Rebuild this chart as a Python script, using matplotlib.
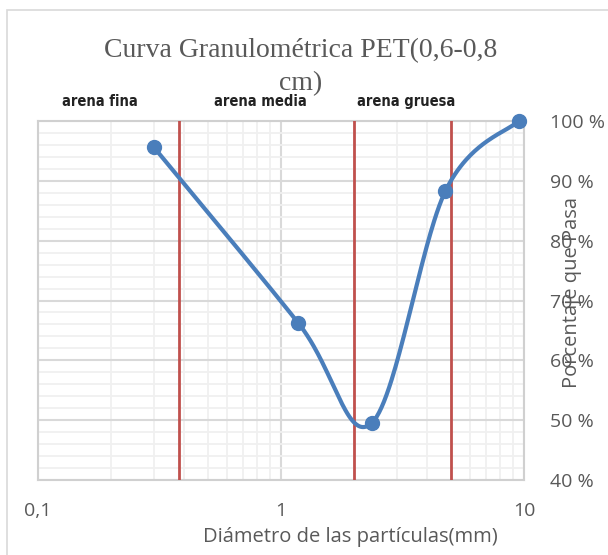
import numpy as np
import matplotlib
matplotlib.use("Agg")
import matplotlib.pyplot as plt
from matplotlib import font_manager
from matplotlib.ticker import FixedLocator, FuncFormatter, NullFormatter
from matplotlib.patches import Rectangle

# ---- data ----
diam_mm = [0.3, 1.18, 2.36, 4.75, 9.5]
pasa_pct = [95.6, 66.2, 49.5, 88.3, 100.0]
limits_mm = [0.38, 2.0, 5.0]
zone_labels = ["arena fina", "arena media", "arena gruesa"]
zone_label_x = [0.18, 0.82, 3.27]
x_ticks = [0.1, 1, 10]
x_tick_labels = ["0,1", "1", "10"]
y_ticks = [40, 50, 60, 70, 80, 90, 100]

title = "Curva Granulométrica PET(0,6-0,8\ncm)"
xlabel = "Diámetro de las partículas(mm)"
ylabel = "Porcentaje que Pasa"

names = {f.name for f in font_manager.fontManager.ttflist}
sans = "Open Sans" if "Open Sans" in names else "DejaVu Sans"

W, H = 608, 555
fig = plt.figure(figsize=(W / 100, H / 100), dpi=100)
L, R, T, B = 38, 524, 121, 480
ax = fig.add_axes([L / W, 1 - B / H, (R - L) / W, (B - T) / H])

# chart border
fig.patches.append(Rectangle((7 / W, -0.1), 1.2, 1 - 10 / H + 0.1, transform=fig.transFigure,
                             fill=False, edgecolor="#d9d9d9", linewidth=1.2))

ax.set_xscale("log")
ax.set_xlim(0.1, 10)
ax.set_ylim(40, 100)

# grid
ax.xaxis.set_major_locator(FixedLocator(x_ticks))
ax.xaxis.set_minor_locator(FixedLocator([m * d for d in (0.1, 1) for m in range(2, 10)]))
ax.yaxis.set_major_locator(FixedLocator(y_ticks))
ax.yaxis.set_minor_locator(FixedLocator(np.arange(40, 101, 2)))
ax.grid(which="minor", color="#f0f0f0", linewidth=1.3)
ax.grid(which="major", color="#d9d9d9", linewidth=1.5)
ax.set_axisbelow(True)
for s in ax.spines.values():
    s.set_color("#d0d0d0")
    s.set_linewidth(1.5)

ax.xaxis.set_major_formatter(FuncFormatter(lambda v, p: x_tick_labels[x_ticks.index(v)] if v in x_ticks else ""))
ax.xaxis.set_minor_formatter(NullFormatter())
ax.yaxis.tick_right()
ax.yaxis.set_major_formatter(FuncFormatter(lambda v, p: f"{int(v)}\u00a0%"))
ax.tick_params(which="both", length=0)
ax.tick_params(axis="x", pad=16, labelsize=14, labelcolor="#595959")
ax.tick_params(axis="y", pad=19, labelsize=14, labelcolor="#595959")
for lab in ax.get_xticklabels() + ax.get_yticklabels():
    lab.set_fontfamily(sans)

# red limit lines
for xv in limits_mm:
    ax.axvline(xv, color="#c0504d", linewidth=2, zorder=3)

# smoothed curve (Excel-style Bezier) in log-x space
lx = np.log10(diam_mm)
py = np.array(pasa_pct)
P = np.column_stack([lx, py])
n = len(P)
curve = []
for i in range(n - 1):
    p0 = P[i - 1] if i > 0 else P[i]
    p1, p2 = P[i], P[i + 1]
    p3 = P[i + 2] if i + 2 < n else P[i + 1]
    c1 = p1 + (p2 - p0) / 6
    c2 = p2 - (p3 - p1) / 6
    t = np.linspace(0, 1, 60)[:, None]
    seg = (1 - t) ** 3 * p1 + 3 * (1 - t) ** 2 * t * c1 + 3 * (1 - t) * t ** 2 * c2 + t ** 3 * p2
    curve.append(seg)
curve = np.vstack(curve)
ax.plot(10 ** curve[:, 0], curve[:, 1], color="#4a7ebb", linewidth=3, zorder=4, solid_capstyle="round")
ax.plot(diam_mm, pasa_pct, "o", color="#4a7ebb", markersize=10, zorder=5, clip_on=False)

# zone labels
for lab, xv in zip(zone_labels, zone_label_x):
    ax.text(xv, 1.055, lab, transform=ax.get_xaxis_transform(), ha="center", va="center",
            fontsize=10.5, fontweight="bold", fontstretch="condensed", family="DejaVu Sans",
            color="#222222")

fig.text(301 / W, 1 - 67 / H, title, ha="center", va="center", fontsize=20,
         family="Liberation Serif", color="#595959", linespacing=1.45)
fig.text(350 / W, 1 - 537 / H, xlabel, ha="center", va="center", fontsize=14.5,
         family=sans, color="#595959")
fig.text(572 / W, 1 - 292 / H, ylabel, ha="center", va="center", rotation=90, fontsize=14.5,
         family=sans, color="#595959")

fig.savefig("out.png", dpi=100)
